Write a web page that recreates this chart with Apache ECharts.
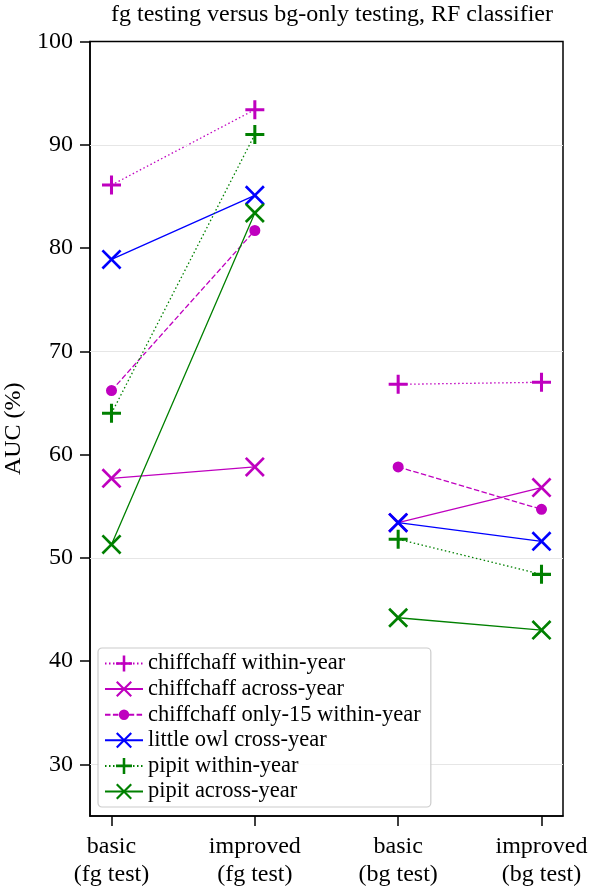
<!DOCTYPE html>
<html>
<head>
<meta charset="utf-8">
<script src="https://cdn.jsdelivr.net/npm/echarts@6/dist/echarts.min.js"></script>
<style>html,body{margin:0;padding:0;background:#fff}#c{width:590px;height:888px}</style>
</head>
<body>
<div id="c"></div>
<script>
var categories = ['basic\n(fg test)', 'improved\n(fg test)', 'basic\n(bg test)', 'improved\n(bg test)'];
var yTicks = [30, 40, 50, 60, 70, 80, 90, 100];
var gridValues = [30, 50, 70, 90];

var chiffWithin   = [86.1, 93.4, 66.8, 67.0];
var chiffAcross   = [57.7, 58.8, 53.4, 56.8];
var chiffOnly15   = [66.2, 81.7, 58.8, 54.7];
var owlCross      = [78.9, 85.1, 53.4, 51.6];
var pipitWithin   = [64.0, 91.0, 51.8, 48.4];
var pipitAcross   = [51.3, 83.4, 44.2, 43.0];

var seriesNames = ['chiffchaff within-year', 'chiffchaff across-year', 'chiffchaff only-15 within-year',
  'little owl cross-year', 'pipit within-year', 'pipit across-year'];

var PLUS = 'path://M4.2,0H5.8V4.2H10V5.8H5.8V10H4.2V5.8H0V4.2H4.2Z';
var XS = 'path://M0,0.95L0.95,0L5,4.05L9.05,0L10,0.95L5.95,5L10,9.05L9.05,10L5,5.95L0.95,10L0,9.05L4.05,5Z';
var DOT = 'path://M0,0L0.01,0L0,0.01Z M20,20L19.99,20L20,19.99Z M3.5,10A6.5,6.5 0 1,1 16.5,10A6.5,6.5 0 1,1 3.5,10Z';

var M = '#bf00bf', B = '#0000ff', G = '#008000';
var DOTTED = [1.5, 2.5], DASHED = [5.5, 2.4];

function pairs(vals) {
  // two separate segments: categories 0-1 and 2-3
  return [[0, vals[0]], [1, vals[1]], [1.5, '-'], [2, vals[2]], [3, vals[3]]];
}

var specs = [
  {vals: chiffWithin, color: M, symbol: PLUS, size: 19, type: DOTTED},
  {vals: chiffAcross, color: M, symbol: XS, size: 20, type: 'solid'},
  {vals: chiffOnly15, color: M, symbol: DOT, size: 17, type: DASHED},
  {vals: owlCross, color: B, symbol: XS, size: 20, type: 'solid'},
  {vals: pipitWithin, color: G, symbol: PLUS, size: 19, type: DOTTED},
  {vals: pipitAcross, color: G, symbol: XS, size: 20, type: 'solid'}
];

var FONT = 'Liberation Serif';
var series = [{
  type: 'line', data: [], silent: true, z: 0,
  markLine: {
    silent: true, symbol: ['none', 'none'], animation: false,
    label: {show: false},
    lineStyle: {color: '#e6e6e6', width: 1, type: 'solid'},
    data: gridValues.map(function (v) { return {yAxis: v}; })
  }
}];
specs.forEach(function (s, i) {
  series.push({
    name: seriesNames[i], type: 'line', data: pairs(s.vals),
    symbol: s.symbol, symbolSize: s.size, showSymbol: true,
    connectNulls: false, z: 2 + i,
    itemStyle: {color: s.color},
    lineStyle: {color: s.color, width: 1.3, type: s.type},
    emphasis: {disabled: true},
    animation: false
  });
});

var chart = echarts.init(document.getElementById('c'));
chart.setOption({
  animation: false,
  backgroundColor: '#fff',
  title: {
    text: 'fg testing versus bg-only testing, RF classifier',
    left: 327, textAlign: 'center', top: -2,
    textStyle: {fontFamily: FONT, fontSize: 24, fontWeight: 'normal', color: '#000'}
  },
  grid: {left: 90, right: 27, top: 41.5, bottom: 72, containLabel: false, outerBoundsMode: 'none',
    show: true, borderColor: '#000', borderWidth: 1.5, backgroundColor: 'transparent'},
  legend: {
    orient: 'vertical', left: 98, top: 648, z: 30,
    data: seriesNames,
    itemWidth: 38, itemHeight: 20, itemGap: 2.6,
    padding: [4, 10, 4, 6],
    backgroundColor: 'rgba(255,255,255,0.9)', borderColor: '#cccccc', borderWidth: 1.2, borderRadius: 4,
    textStyle: {fontFamily: FONT, fontSize: 22.5, color: '#000', lineHeight: 20}
  },
  xAxis: {
    type: 'value', min: -0.15, max: 3.15,
    axisLine: {show: true, onZero: false, lineStyle: {color: '#000', width: 1.5}},
    axisTick: {show: true, length: 10, lineStyle: {color: '#000', width: 1.5}, customValues: [0, 1, 2, 3]},
    axisLabel: {
      customValues: [0, 1, 2, 3], margin: 17,
      fontFamily: FONT, fontSize: 24, color: '#000', lineHeight: 28,
      formatter: function (v) { return categories[Math.round(v)] || ''; }
    },
    splitLine: {show: false}
  },
  yAxis: {
    type: 'value', min: 25, max: 100,
    name: 'AUC (%)', nameLocation: 'middle', nameRotate: 90, nameGap: 59,
    nameTextStyle: {fontFamily: FONT, fontSize: 24, color: '#000'},
    axisLine: {show: true, onZero: false, lineStyle: {color: '#000', width: 1.5}},
    axisTick: {show: true, length: 10, lineStyle: {color: '#000', width: 1.5}, customValues: yTicks},
    axisLabel: {customValues: yTicks, margin: 17, fontFamily: FONT, fontSize: 24, color: '#000'},
    splitLine: {show: false}
  },
  series: series
});
</script>
</body>
</html>
